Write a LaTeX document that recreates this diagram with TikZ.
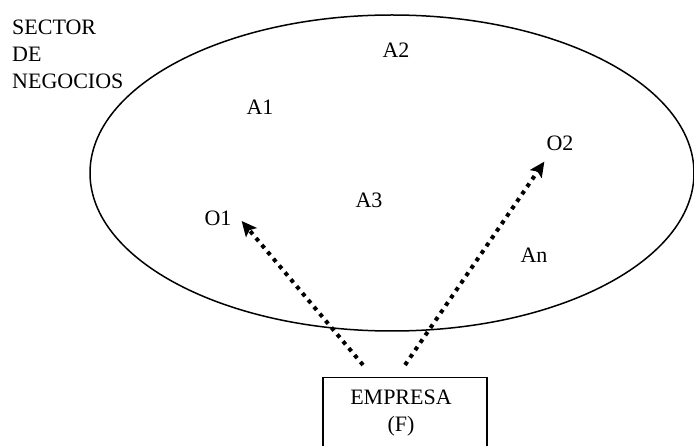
\documentclass[tikz,border=0pt]{standalone}
\usepackage{fontspec}
\setmainfont{Liberation Serif}
\usetikzlibrary{arrows.meta}
\begin{document}
\begin{tikzpicture}[x=1pt,y=-1pt,
  lbl/.style={font=\fontsize{22}{27}\selectfont, inner sep=0pt},
  dotarrow/.style={line width=4pt, dash pattern=on 4pt off 5pt,
    -{Stealth[length=15pt,width=14pt,inset=3pt]}}]
\useasboundingbox (0,0) rectangle (694,446);
\clip (0,0) rectangle (694,446);
\fill[white] (0,0) rectangle (694,446);
% ellipse (sector)
\draw[line width=1.5pt] (392,173) ellipse [x radius=302, y radius=158];
% title
\node[lbl, anchor=north west, align=left] (title) at (12,20) {SECTOR\\DE\\NEGOCIOS};
% labels
\node[lbl] (A2) at (396,50) {A2};
\node[lbl] (A1) at (260,107) {A1};
\node[lbl] (O2) at (560,143) {O2};
\node[lbl] (A3) at (369,200) {A3};
\node[lbl] (O1) at (218,218) {O1};
\node[lbl] (An) at (534,255) {An};
% company box
\node[draw, line width=1.2pt, minimum width=164pt, minimum height=100pt, anchor=north, inner sep=0pt] (F) at (405,377) {};
\node[lbl, align=center] (Ftext) at (401,413) {EMPRESA\\(F)};
% arrow endpoints
\coordinate (s1) at ([xshift=-42pt,yshift=12pt]F.north);
\coordinate (s2) at ([xshift=0pt,yshift=12pt]F.north);
\coordinate (t1) at ([xshift=10pt,yshift=-3pt]O1.east);
\coordinate (t2) at ([xshift=-2pt,yshift=-11pt]O2.south west);
\draw[dotarrow] (s1) -- (t1);
\draw[dotarrow] (s2) -- (t2);
\end{tikzpicture}
\end{document}
